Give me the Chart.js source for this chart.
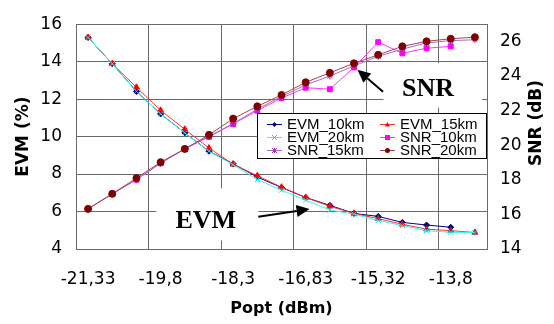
<!DOCTYPE html>
<html><head><meta charset="utf-8">
<script src="https://cdn.jsdelivr.net/npm/chart.js@4.4.1/dist/chart.umd.min.js"></script>
<style>html,body{margin:0;padding:0;background:#fff;}canvas{display:block;}</style>
</head><body>
<canvas id="c" width="554" height="324"></canvas>
<script>
// ---- data ----
const categories = ['-21,33','-20,82','-20,31','-19,8','-19,29','-18,78','-18,3','-17,79','-17,28','-16,83','-16,32','-15,81','-15,32','-14,81','-14,3','-13,8','-13,29'];
const evm10km = [15.29,13.89,12.41,11.21,10.20,9.22,8.55,7.84,7.28,6.75,6.33,5.90,5.74,5.42,5.28,5.16,null];
const evm15km = [15.29,13.89,12.63,11.40,10.39,9.39,8.52,7.91,7.30,6.75,6.28,5.90,5.62,5.32,5.06,4.98,4.88];
const evm20km = [15.29,13.89,12.41,11.21,10.20,9.22,8.50,7.71,7.14,6.61,6.08,5.86,5.52,5.25,4.98,4.89,4.88];
const snr10km = [16.32,17.19,18.01,18.96,19.79,20.48,21.23,22.00,22.73,23.33,23.24,24.50,25.96,25.32,25.61,25.72,null];
const snr15km = [16.32,17.19,18.01,18.96,19.79,20.52,21.25,22.09,22.82,23.49,24.00,24.59,25.14,25.56,25.92,26.05,26.10];
const snr20km = [16.32,17.19,18.10,19.02,19.79,20.60,21.54,22.25,22.91,23.64,24.19,24.74,25.23,25.72,26.01,26.16,26.25];
const evmTicks = [4,6,8,10,12,14,16];
const snrTicks = [14,16,18,20,22,24,26];
const labelEvery = 3;

const FONT = "'DejaVu Sans', sans-serif";
const LFONT = "'Liberation Sans', Arial, sans-serif";
const GRID = '#6a6a6a';

function ds(label, data, axis, line, marker, style, r, order) {
  return { label, data, yAxisID: axis, borderColor: line, backgroundColor: marker,
    pointBackgroundColor: marker, pointBorderColor: marker, pointStyle: style,
    pointRadius: r, pointBorderWidth: 1, borderWidth: 1, tension: 0, spanGaps: false, fill: false, order };
}

function drawMarker(ctx, style, x, y, r, color) {
  ctx.save();
  ctx.fillStyle = color; ctx.strokeStyle = color; ctx.lineWidth = 1;
  ctx.beginPath();
  switch (style) {
    case 'rectRot': ctx.moveTo(x, y - r); ctx.lineTo(x + r, y); ctx.lineTo(x, y + r); ctx.lineTo(x - r, y); ctx.closePath(); ctx.fill(); break;
    case 'triangle': ctx.moveTo(x, y - r); ctx.lineTo(x + r, y + r * 0.8); ctx.lineTo(x - r, y + r * 0.8); ctx.closePath(); ctx.fill(); break;
    case 'rect': ctx.rect(x - r, y - r, 2 * r, 2 * r); ctx.fill(); break;
    case 'circle': ctx.arc(x, y, r, 0, Math.PI * 2); ctx.fill(); break;
    case 'crossRot': ctx.moveTo(x - r, y - r); ctx.lineTo(x + r, y + r); ctx.moveTo(x + r, y - r); ctx.lineTo(x - r, y + r); ctx.stroke(); break;
    case 'star': ctx.moveTo(x - r, y - r); ctx.lineTo(x + r, y + r); ctx.moveTo(x + r, y - r); ctx.lineTo(x - r, y + r); ctx.moveTo(x, y - r); ctx.lineTo(x, y + r); ctx.stroke(); break;
  }
  ctx.restore();
}

function arrow(ctx, x1, y1, x2, y2) {
  const ang = Math.atan2(y2 - y1, x2 - x1), L = 13, W = 6;
  const bx = x2 - L * Math.cos(ang), by = y2 - L * Math.sin(ang);
  ctx.save();
  ctx.strokeStyle = '#000'; ctx.fillStyle = '#000'; ctx.lineWidth = 2;
  ctx.beginPath(); ctx.moveTo(x1, y1); ctx.lineTo(bx, by); ctx.stroke();
  ctx.beginPath(); ctx.moveTo(x2, y2);
  ctx.lineTo(bx + W * Math.sin(ang), by - W * Math.cos(ang));
  ctx.lineTo(bx - W * Math.sin(ang), by + W * Math.cos(ang));
  ctx.closePath(); ctx.fill();
  ctx.restore();
}

const extras = {
  id: 'extras',
  afterDraw(chart) {
    const ctx = chart.ctx, a = chart.chartArea, sx = chart.scales.x, sy = chart.scales.y;
    const X = v => sx.getPixelForValue(v), Y = v => sy.getPixelForValue(v);
    ctx.save();
    // white text boxes
    ctx.fillStyle = '#fff';
    ctx.fillRect(X(12.22), Y(13.92), X(16.3) - X(12.22), Y(11.54) - Y(13.92));
    ctx.fillRect(X(2.82), Y(7.24), X(7.04) - X(2.82), Y(4.46) - Y(7.24));
    // labels
    ctx.fillStyle = '#000';
    ctx.font = "bold 26px 'Liberation Serif', 'Times New Roman', serif";
    ctx.textAlign = 'center'; ctx.textBaseline = 'alphabetic';
    ctx.fillText('SNR', X(14.06), Y(12.15));
    ctx.fillText('EVM', X(4.87), Y(5.11));
    arrow(ctx, X(12.2), Y(12.4), X(11.14), Y(13.57));
    arrow(ctx, X(7.04), Y(5.72), X(9.16), Y(6.13));
    // legend
    const lx = 257, ly = 113, lw = a.right - 1 - lx, lh = 45;
    ctx.fillStyle = '#fff'; ctx.fillRect(lx, ly, lw, lh);
    ctx.strokeStyle = '#000'; ctx.lineWidth = 1; ctx.strokeRect(lx + 0.5, ly + 0.5, lw, lh);
    ctx.font = '15px ' + LFONT; ctx.textAlign = 'left'; ctx.textBaseline = 'middle';
    chart.data.datasets.forEach((d, i) => {
      const cx = i % 2 === 0 ? 267 : 380, cy = 124 + Math.floor(i / 2) * 13;
      ctx.strokeStyle = d.borderColor; ctx.lineWidth = 1;
      ctx.beginPath(); ctx.moveTo(cx, cy + 0.5); ctx.lineTo(cx + 15, cy + 0.5); ctx.stroke();
      drawMarker(ctx, d.pointStyle, cx + 7.5, cy + 0.5, 2.5, d.pointBorderColor);
      ctx.fillStyle = '#000';
      ctx.fillText(d.label, cx + 20, cy + 1);
    });
    // axis titles
    ctx.fillStyle = '#000';
    ctx.font = 'bold 17px ' + FONT; ctx.textAlign = 'center'; ctx.textBaseline = 'middle';
    ctx.save(); ctx.translate(24, (a.top + a.bottom) / 2); ctx.rotate(-Math.PI / 2); ctx.fillText('EVM (%)', 0, 0); ctx.restore();
    ctx.save(); ctx.translate(537, 123); ctx.rotate(-Math.PI / 2); ctx.fillText('SNR (dB)', 0, 0); ctx.restore();
    ctx.font = 'bold 16px ' + FONT;
    ctx.fillText('Popt (dBm)', (a.left + a.right) / 2, 309);
    ctx.restore();
  }
};

new Chart(document.getElementById('c'), {
  type: 'line',
  data: {
    labels: categories,
    datasets: [
      ds('EVM_10km', evm10km, 'y', '#000080', '#000080', 'rectRot', 3, 3),
      ds('EVM_15km', evm15km, 'y', '#ff3030', '#ff0000', 'triangle', 3.5, 2),
      ds('EVM_20km', evm20km, 'y', '#40f0f0', '#00e0e0', 'crossRot', 3.5, 1),
      ds('SNR_10km', snr10km, 'y2', '#ff33ff', '#ff00ff', 'rect', 3.5, 3),
      ds('SNR_15km', snr15km, 'y2', '#a070c8', '#993399', 'star', 3.5, 2),
      ds('SNR_20km', snr20km, 'y2', '#a04848', '#800000', 'circle', 3.5, 0)
    ]
  },
  options: {
    responsive: false, animation: false, devicePixelRatio: 1,
    layout: { padding: { top: 12, left: 0, right: 0, bottom: 0 } },
    plugins: { legend: { display: false }, tooltip: { enabled: false } },
    scales: {
      x: {
        type: 'category', offset: true,
        grid: { offset: true, drawTicks: false, lineWidth: 1,
          color: c => (c.index !== undefined && c.index % labelEvery === 0) ? GRID : 'rgba(0,0,0,0)' },
        border: { display: true, color: GRID },
        ticks: { autoSkip: false, maxRotation: 0, minRotation: 0, padding: 20, color: '#000',
          font: { family: FONT, size: 17 },
          callback: (v, i) => i % labelEvery === 0 ? categories[i] : '' },
        afterFit: s => { s.height = 75; }
      },
      y: {
        position: 'left', min: evmTicks[0], max: evmTicks[evmTicks.length - 1],
        afterBuildTicks: s => { s.ticks = evmTicks.map(v => ({ value: v })); },
        ticks: { padding: 14, color: '#000', font: { family: FONT, size: 17 } },
        grid: { color: GRID, drawTicks: false },
        border: { display: true, color: GRID },
        afterFit: s => { s.width = 76; }
      },
      y2: {
        position: 'right', min: 14, max: 27,
        afterBuildTicks: s => { s.ticks = snrTicks.map(v => ({ value: v })); },
        ticks: { padding: 13, color: '#000', font: { family: FONT, size: 17 } },
        grid: { drawOnChartArea: false, drawTicks: false },
        border: { display: true, color: GRID },
        afterFit: s => { s.width = 67; }
      }
    }
  },
  plugins: [extras]
});
</script>
</body></html>
